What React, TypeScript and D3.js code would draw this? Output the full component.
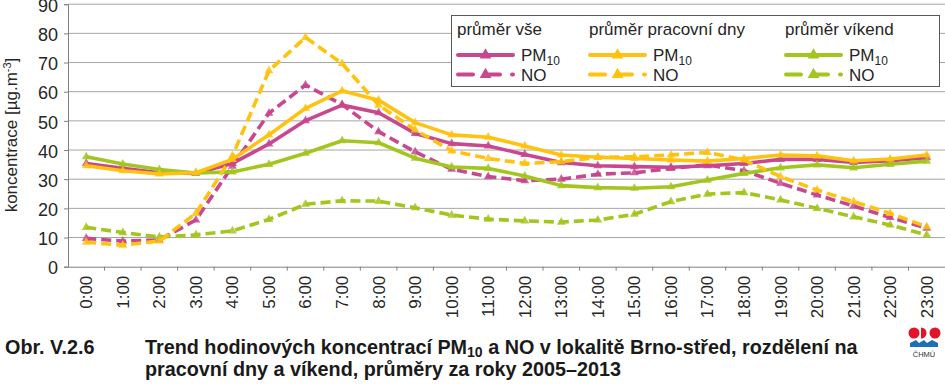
import React, { useEffect, useRef } from "react";
import * as d3 from "d3";

// hours on the x axis
const hours = [
  "0:00", "1:00", "2:00", "3:00", "4:00", "5:00", "6:00", "7:00", "8:00", "9:00", "10:00", "11:00",
  "12:00", "13:00", "14:00", "15:00", "16:00", "17:00", "18:00", "19:00", "20:00", "21:00", "22:00", "23:00",
];
const yTicks = [0, 10, 20, 30, 40, 50, 60, 70, 80, 90];

// průměr vše
const allPM10 = [35.4, 33.7, 32.2, 32.0, 35.4, 42.1, 50.1, 55.4, 52.8, 45.7, 42.2, 41.4, 38.5, 35.7, 34.6, 34.3, 34.1, 34.6, 35.4, 36.8, 36.8, 35.7, 36.3, 37.4];
const allNO = [9.7, 8.8, 9.2, 16.0, 34.5, 52.6, 62.3, 55.6, 46.3, 39.4, 33.4, 30.9, 29.5, 30.0, 31.7, 32.2, 33.7, 34.9, 32.9, 28.6, 24.6, 20.8, 16.9, 13.2];
// průměr pracovní dny
const workPM10 = [34.6, 32.9, 31.8, 32.2, 36.8, 45.2, 54.3, 60.3, 57.1, 49.4, 45.2, 44.4, 41.4, 38.3, 37.5, 37.1, 36.6, 36.2, 37.1, 38.3, 38.0, 36.3, 36.9, 38.3];
const workNO = [8.4, 7.4, 8.8, 18.3, 38.0, 67.2, 78.6, 69.7, 55.4, 46.9, 39.7, 37.1, 35.4, 36.0, 37.5, 37.7, 38.3, 39.2, 36.6, 30.9, 26.3, 22.3, 18.3, 13.7];
// průměr víkend
const wkndPM10 = [37.7, 35.2, 33.3, 32.1, 32.5, 35.1, 38.9, 43.2, 42.5, 37.2, 34.2, 33.7, 31.1, 27.8, 27.1, 26.9, 27.4, 29.7, 32.0, 33.9, 34.9, 33.9, 35.1, 36.2];
const wkndNO = [13.5, 11.7, 10.2, 10.9, 12.3, 16.2, 21.4, 22.6, 22.5, 20.2, 17.7, 16.3, 15.7, 15.3, 16.0, 18.0, 22.3, 24.9, 25.4, 22.9, 20.0, 17.1, 14.3, 10.9];

const groups = ["průměr vše", "průměr pracovní dny", "průměr víkend"];
const colors = ["#c8478f", "#ffc20e", "#a3c61f"];

const series = [
  { values: allPM10, color: colors[0], dashed: false },
  { values: allNO, color: colors[0], dashed: true },
  { values: wkndPM10, color: colors[2], dashed: false },
  { values: wkndNO, color: colors[2], dashed: true },
  { values: workPM10, color: colors[1], dashed: false },
  { values: workNO, color: colors[1], dashed: true },
];

const W = 945;
const H = 390;
const FONT = "'Liberation Sans', Arial, sans-serif";

const App = () => {
  const svgRef = useRef<SVGSVGElement>(null);

  useEffect(() => {
    const svg = d3.select(svgRef.current);
    svg.selectAll("*").remove();

    const x = d3.scaleBand().domain(hours).range([68, 945]);
    const y = d3.scaleLinear().domain([0, 90]).range([266.7, 4.2]);
    const cx = (h: string) => (x(h) as number) + x.bandwidth() / 2;

    // gridlines
    svg
      .append("g")
      .selectAll("line")
      .data(yTicks.filter((t) => t > 0))
      .join("line")
      .attr("x1", 68)
      .attr("x2", 945)
      .attr("y1", (d) => y(d))
      .attr("y2", (d) => y(d))
      .attr("stroke", "#a6a6a6")
      .attr("stroke-width", 1);

    // y axis
    const yAxis = svg
      .append("g")
      .attr("transform", "translate(68,0)")
      .call(d3.axisLeft(y).tickValues(yTicks).tickSize(4).tickPadding(6));
    yAxis.select(".domain").attr("stroke", "#808080");
    yAxis.selectAll(".tick line").attr("stroke", "#808080");
    yAxis
      .selectAll("text")
      .attr("fill", "#262626")
      .attr("dy", "0.4em")
      .style("font-family", FONT)
      .style("font-size", "18px");

    // x axis
    const xAxis = svg
      .append("g")
      .attr("transform", `translate(0,${y(0)})`)
      .call(d3.axisBottom(x).tickSize(0).tickPadding(0));
    xAxis.select(".domain").attr("stroke", "#808080");
    xAxis
      .selectAll(".tick text")
      .attr("transform", "rotate(-90)")
      .attr("x", -9)
      .attr("y", 0)
      .attr("dy", "0.35em")
      .style("text-anchor", "end")
      .attr("fill", "#262626")
      .style("font-family", FONT)
      .style("font-size", "17px");
    // tick marks between categories
    svg
      .append("g")
      .selectAll("line")
      .data(hours.slice(1))
      .join("line")
      .attr("x1", (d) => x(d) as number)
      .attr("x2", (d) => x(d) as number)
      .attr("y1", y(0))
      .attr("y2", y(0) + 4)
      .attr("stroke", "#808080");

    // y title
    const yt = svg
      .append("text")
      .attr("transform", `translate(17,${135}) rotate(-90)`)
      .attr("text-anchor", "middle")
      .attr("fill", "#262626")
      .style("font-family", FONT)
      .style("font-size", "17px");
    yt.append("tspan").text("koncentrace [µg.m");
    yt.append("tspan").attr("dy", -6).style("font-size", "11px").text("-3");
    yt.append("tspan").attr("dy", 6).text("]");

    // lines
    const line = d3
      .line<number>()
      .x((_, i) => cx(hours[i]))
      .y((d) => y(d));
    const tri = d3.symbol().type(d3.symbolTriangle).size(34);

    series.forEach((s) => {
      svg
        .append("path")
        .datum(s.values)
        .attr("d", line)
        .attr("fill", "none")
        .attr("stroke", s.color)
        .attr("stroke-width", 3.6)
        .attr("stroke-dasharray", s.dashed ? "10 5" : null)
        .attr("stroke-linejoin", "round");
      svg
        .append("g")
        .selectAll("path")
        .data(s.values)
        .join("path")
        .attr("d", tri)
        .attr("transform", (d, i) => `translate(${cx(hours[i])},${y(d)})`)
        .attr("fill", s.color)
        .attr("opacity", 0.85);
    });

    // legend
    const lg = svg.append("g");
    lg.append("rect")
      .attr("x", 451.5)
      .attr("y", 15.5)
      .attr("width", 488)
      .attr("height", 71)
      .attr("fill", "#fff")
      .attr("stroke", "#595959")
      .attr("stroke-width", 1);
    const lx = [457, 589, 785];
    groups.forEach((g, i) => {
      lg.append("text")
        .attr("x", lx[i])
        .attr("y", 35)
        .attr("fill", "#262626")
        .style("font-family", FONT)
        .style("font-size", "17px")
        .text(g);
      [false, true].forEach((dashed, j) => {
        const ly = j === 0 ? 55 : 74.5;
        lg.append("line")
          .attr("x1", lx[i] + 1)
          .attr("x2", lx[i] + 56)
          .attr("y1", ly)
          .attr("y2", ly)
          .attr("stroke", colors[i])
          .attr("stroke-width", 4)
          .attr("stroke-linecap", "round")
          .attr("stroke-dasharray", dashed ? "15 12" : null);
        lg.append("path")
          .attr("d", d3.symbol().type(d3.symbolTriangle).size(60)())
          .attr("transform", `translate(${lx[i] + 28.5},${ly})`)
          .attr("fill", colors[i]);
        const t = lg
          .append("text")
          .attr("x", lx[i] + 64)
          .attr("y", j === 0 ? 61 : 81)
          .attr("fill", "#262626")
          .style("font-family", FONT)
          .style("font-size", "17px")
          .text(j === 0 ? "PM" : "NO");
        if (j === 0) {
          t.append("tspan").attr("dy", 4).style("font-size", "12px").text("10");
        }
      });
    });

    // caption
    const CAP = "'Liberation Sans Narrow', 'Arial Narrow', 'Liberation Sans', sans-serif";
    const c1 = svg
      .append("text")
      .attr("x", 5)
      .attr("y", 354)
      .attr("fill", "#1a1a1a")
      .style("font-family", CAP)
      .style("font-weight", "bold")
      .style("font-size", "19.8px");
    c1.append("tspan").text("Obr. V.2.6");
    c1.append("tspan").attr("x", 145).text("Trend hodinových koncentrací PM");
    c1.append("tspan").attr("dy", 3).style("font-size", "14px").text("10");
    c1.append("tspan").attr("dy", -3).text(" a NO v lokalitě Brno-střed, rozdělení na");
    svg
      .append("text")
      .attr("x", 145)
      .attr("y", 376)
      .attr("fill", "#1a1a1a")
      .style("font-family", CAP)
      .style("font-weight", "bold")
      .style("font-size", "19.8px")
      .text("pracovní dny a víkend, průměry za roky 2005–2013");

    // ČHMÚ logo
    const logo = svg.append("g");
    logo.append("circle").attr("cx", 914).attr("cy", 333).attr("r", 5.5).attr("fill", "#e3132a");
    logo
      .append("path")
      .attr("d", "M921,327.5 A5.5,5.5 0 0 1 921,338.5 Z")
      .attr("fill", "#e3132a");
    logo.append("circle").attr("cx", 935).attr("cy", 333).attr("r", 5.5).attr("fill", "#e3132a");
    logo
      .append("path")
      .attr("d", "M910,347 L910,343 L916,340 L919,343 L924,340 L927,343 L932,340 L938,343 L938,347 Z")
      .attr("fill", "#1f6fb5");
    logo
      .append("text")
      .attr("x", 924)
      .attr("y", 357)
      .attr("text-anchor", "middle")
      .attr("fill", "#333")
      .style("font-family", FONT)
      .style("font-size", "7.5px")
      .text("ČHMÚ");
  }, []);

  return (
    <svg
      ref={svgRef}
      width={W}
      height={H}
      style={{ position: "absolute", left: 0, top: 0, background: "#fff" }}
    />
  );
};

export default App;
